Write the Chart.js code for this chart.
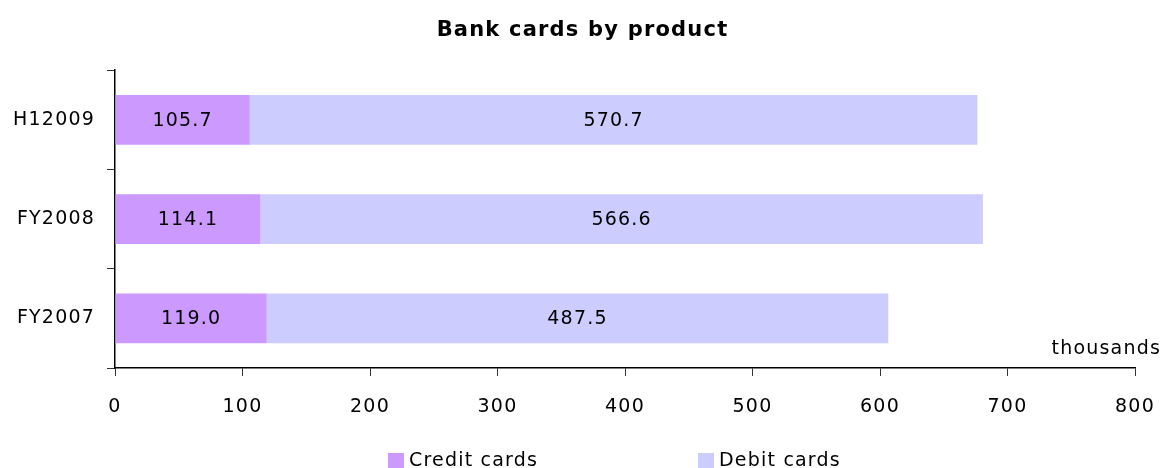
<!DOCTYPE html>
<html lang="en">
<head>
  <meta charset="UTF-8">
  <title>Bank cards by product</title>
  <script src="https://cdn.jsdelivr.net/npm/chart.js@4/dist/chart.umd.min.js"></script>
  <style>
    html, body { margin: 0; padding: 0; background: #fff; }
    .chart-wrap { width: 1165px; height: 468px; }
  </style>
</head>
<body>
  <div class="chart-wrap"><canvas id="chart"></canvas></div>

  <script>
    const periods = ['H12009', 'FY2008', 'FY2007'];
    const creditCards = [105.7, 114.1, 119.0];
    const debitCards = [570.7, 566.6, 487.5];
    const xTicks = [0, 100, 200, 300, 400, 500, 600, 700, 800];

    const font = 'DejaVu Sans';
    const spacing = '1.2px';

    // the original text is a bit wider spaced than DejaVu
    const letterSpacing = {
      id: 'letterSpacing',
      beforeLayout(chart) { chart.ctx.letterSpacing = spacing; },
      beforeDraw(chart) { chart.ctx.letterSpacing = spacing; }
    };

    // value labels in the middle of each segment
    const segmentLabels = {
      id: 'segmentLabels',
      afterDatasetsDraw(chart) {
        const ctx = chart.ctx;
        ctx.save();
        ctx.font = `19px "${font}"`;
        ctx.fillStyle = '#000';
        ctx.textAlign = 'center';
        ctx.textBaseline = 'middle';
        chart.data.datasets.forEach((ds, i) => {
          chart.getDatasetMeta(i).data.forEach((bar, j) => {
            const p = bar.getProps(['x', 'y', 'base'], true);
            ctx.fillText(ds.data[j].toFixed(1), (p.x + p.base) / 2, p.y + 1);
          });
        });
        // unit label
        ctx.textAlign = 'right';
        ctx.fillText('thousands', chart.width - 4, chart.chartArea.bottom - 19);
        ctx.restore();
      }
    };

    // legend drawn under the plot
    const bottomLegend = {
      id: 'bottomLegend',
      afterDraw(chart) {
        const ctx = chart.ctx;
        const area = chart.chartArea;
        const spots = [0.2676, 0.5716];
        ctx.save();
        ctx.font = `19px "${font}"`;
        ctx.textBaseline = 'middle';
        ctx.textAlign = 'left';
        chart.data.datasets.forEach((ds, i) => {
          const x = area.left + spots[i] * (area.right - area.left);
          const y = 461;
          ctx.fillStyle = ds.backgroundColor;
          ctx.fillRect(x, y - 8, 16, 16);
          ctx.fillStyle = '#000';
          ctx.fillText(ds.label, x + 21, y);
        });
        ctx.restore();
      }
    };

    const config = {
      type: 'bar',
      data: {
        labels: periods,
        datasets: [{
          label: 'Credit cards',
          data: creditCards,
          backgroundColor: '#cc99ff',
          categoryPercentage: 1,
          barPercentage: 0.5
        }, {
          label: 'Debit cards',
          data: debitCards,
          backgroundColor: '#ccccff',
          categoryPercentage: 1,
          barPercentage: 0.5
        }]
      },
      options: {
        indexAxis: 'y',
        responsive: true,
        maintainAspectRatio: false,
        animation: false,
        layout: {
          padding: 0
        },
        plugins: {
          legend: { display: false },
          tooltip: { enabled: false },
          title: {
            display: true,
            text: 'Bank cards by product',
            color: '#000',
            font: { family: font, size: 21, weight: 'bold' },
            padding: { top: 18, bottom: 27 }
          }
        },
        scales: {
          x: {
            stacked: true,
            min: 0,
            max: 800,
            afterBuildTicks: (scale) => {
              scale.ticks = xTicks.map(v => ({ value: v }));
            },
            afterFit: (scale) => {
              scale.height = 100;
              scale.paddingLeft = 0;
              scale.paddingRight = 30;
            },
            border: { color: '#000', width: 1.5 },
            grid: {
              drawOnChartArea: false,
              drawTicks: true,
              tickLength: 8,
              color: '#333'
            },
            ticks: {
              color: '#000',
              padding: 20,
              maxRotation: 0,
              font: { family: font, size: 19 }
            }
          },
          y: {
            stacked: true,
            afterFit: (scale) => { scale.width = 115; },
            border: { color: '#000', width: 1.5 },
            grid: {
              offset: true,
              drawOnChartArea: false,
              drawTicks: true,
              tickLength: 8,
              color: '#333'
            },
            ticks: {
              color: '#000',
              padding: 12,
              font: { family: font, size: 19 }
            }
          }
        }
      },
      plugins: [letterSpacing, segmentLabels, bottomLegend]
    };

    Chart.defaults.font.family = font;
    new Chart(document.getElementById('chart'), config);
  </script>
</body>
</html>
